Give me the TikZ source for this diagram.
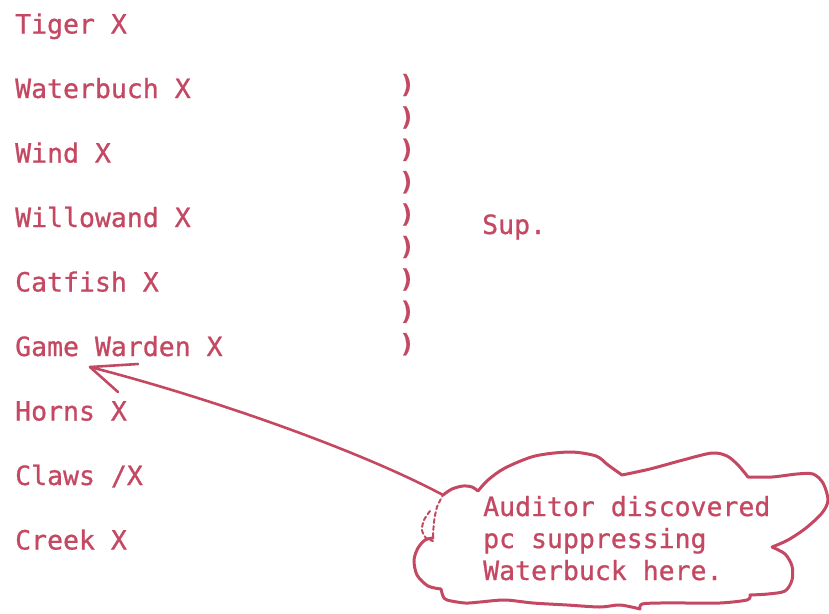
\documentclass[tikz,border=0pt]{standalone}
\usepackage{fontspec}
\newfontfamily\typewriter[FakeBold = 0.8]{DejaVu Sans Mono}
\definecolor{ink}{RGB}{196, 72, 98}

\begin{document}
\begin{tikzpicture}[x = 1pt, y = -1pt, line join = round, line cap = round,
  typed/.style = {font = \typewriter\fontsize{26.5}{32}\selectfont,
    text = ink, inner sep = 0, anchor = base west},
  paren/.style = {font = \typewriter\bfseries\fontsize{25}{30}\selectfont,
    text = ink, inner sep = 0},
  pen/.style = {draw = ink, line width = 3pt}]
  \useasboundingbox (0, 0) rectangle (829, 613);

  \node[typed] (tiger) at (15, 33.5) {Tiger X};
  \node[typed] (waterbuch) at (15, 98) {Waterbuch X};
  \node[typed] (wind) at (15, 162.5) {Wind X};
  \node[typed] (willowand) at (15, 227) {Willowand X};
  \node[typed] (catfish) at (15, 291.5) {Catfish X};
  \node[typed] (warden) at (15, 356) {Game Warden X};
  \node[typed] (horns) at (15, 420.5) {Horns X};
  \node[typed] (claws) at (15, 485) {Claws /X};
  \node[typed] (creek) at (15, 549.5) {Creek X};

  \foreach \k in {0, ..., 8}
    \node[paren] (paren\k) at (407, {85 + 32.4*\k}) {)};
  \node[typed] (sup) at (482, 234) {Sup.};

  % the cloud
  \draw[pen]
    plot[smooth] coordinates {(443, 495) (452, 489) (463, 486) (472, 487)
      (478, 491)}
    -- plot[smooth] coordinates {(478, 491) (488, 480) (505, 468) (535, 456)
      (570, 452) (596, 456) (608, 465) (622, 475)}
    -- plot[smooth] coordinates {(622, 475) (650, 469) (683, 460) (712, 453)
      (727, 456) (738, 465) (748, 477)}
    -- plot[smooth] coordinates {(748, 477) (772, 477) (797, 474) (813, 474)
      (823, 483) (828, 500) (822, 513) (806, 528) (788, 540) (772, 547)}
    -- plot[smooth] coordinates {(772, 547) (785, 554) (792, 566) (792, 580)
      (785, 591) (768, 594) (750, 595)}
    -- plot[smooth] coordinates {(750, 595) (747, 600) (720, 603) (690, 603)
      (660, 603) (642, 604) (640, 609)}
    -- plot[smooth] coordinates {(640, 609) (620, 605) (600, 607) (567, 605)
      (533, 603) (505, 600) (480, 602) (465, 603) (447, 600) (443, 596)
      (441, 589)}
    -- plot[smooth] coordinates {(441, 589) (428, 586) (417, 575) (414, 560)
      (418, 548) (425, 540) (433, 538)};
  \draw[pen, line width = 2pt, dash pattern = on 4pt off 3pt]
    plot[smooth] coordinates {(433, 537) (434, 522) (437, 507) (443, 495)};
  \draw[pen, line width = 2pt, dash pattern = on 4pt off 3pt]
    plot[smooth] coordinates {(430, 511) (424, 520) (422, 530) (426, 538)
      (433, 541)};

  \node[typed] (note) at (483, 580) [align = left]
  {Auditor discovered\\pc suppressing\\Waterbuck here.};

  % the arrow
  \coordinate (auditjoin) at (443, 495);
  \coordinate (wardentip) at (90, 367);
  \draw[pen, line width = 2.6pt] (auditjoin) .. controls (355, 448) and
  (200, 395) .. (wardentip);
  \draw[pen, line width = 2.6pt] (wardentip) -- +(48, -3);
  \draw[pen, line width = 2.6pt] (wardentip) -- +(28, 25);
\end{tikzpicture}
\end{document}
